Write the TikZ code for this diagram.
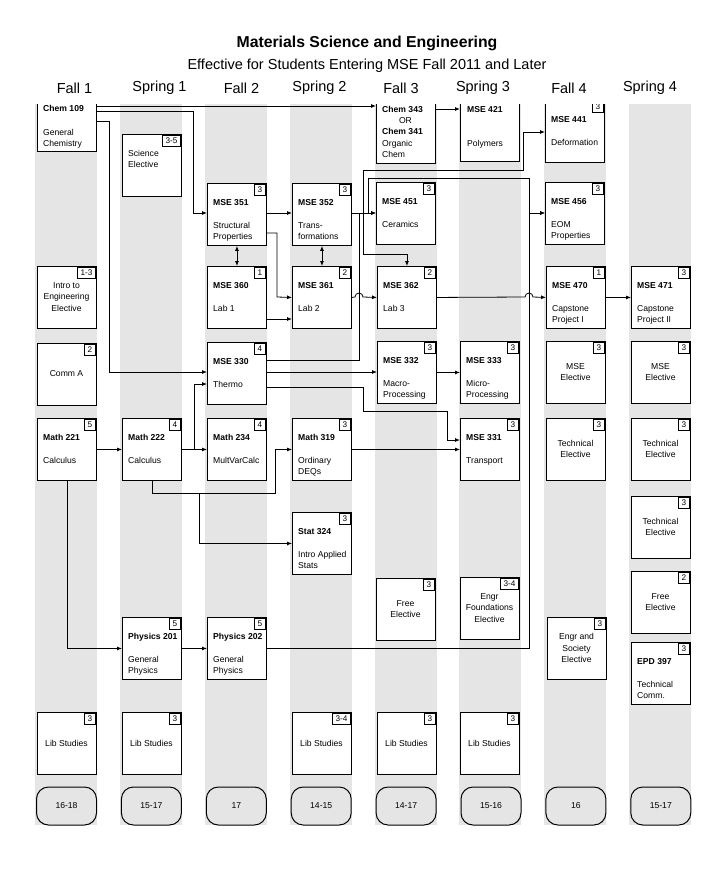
\documentclass[tikz,border=0pt]{standalone}
\usepackage{fontspec}
\setmainfont{Liberation Sans}
\usetikzlibrary{arrows.meta,positioning}

\tikzset{
  every course/.style={draw, line width=0.9pt, fill=white, anchor=north west,
    minimum width=59pt, minimum height=62pt, inner sep=0pt},
  credit/.style={draw, line width=0.8pt, fill=white, anchor=north east,
    minimum width=11pt, minimum height=11pt, inner xsep=3pt, inner ysep=0pt,
    font=\fontsize{8.2}{9}\selectfont},
  course name/.style={anchor=base west, inner sep=0pt,
    font=\fontsize{8.6}{11.5}\selectfont\bfseries},
  course text/.style={anchor=north west, inner sep=0pt, align=left,
    font=\fontsize{8.6}{11.5}\selectfont},
  elective text/.style={inner sep=0pt, align=center,
    font=\fontsize{8.6}{11.5}\selectfont},
  semester/.style={font=\fontsize{14.5}{16}\selectfont},
  strip/.style={fill=black!10},
  total box/.style={draw, line width=1pt, fill=black!10, rounded corners=12pt,
    minimum width=60pt, minimum height=38pt, font=\fontsize{8.6}{10}\selectfont},
  link/.style={line width=0.8pt, ->},
}

\begin{document}
\begin{tikzpicture}[x=1pt, y=-1pt, >={Latex[length=5pt,width=4pt]}]
\useasboundingbox (0,0) rectangle (728,876);
\node[font=\fontsize{15.8}{18}\selectfont\bfseries] (title) at (367,43)
  {Materials Science and Engineering};
\node[semester] (subtitle) at (367,66)
  {Effective for Students Entering MSE Fall 2011 and Later};
\foreach \l/\x [count=\i] in {Fall 1/74.5,Spring 1/159.5,Fall 2/241.5,Spring 2/319.5,
    Fall 3/401,Spring 3/483,Fall 4/569,Spring 4/650}
  \node[semester] (head-\i) at (\x,88) {\l};

\begin{scope}
\clip (0,104) rectangle (728,876);
\foreach \x in {35,120,205,290,375,459,544,629}
  \fill[strip] (\x,104) rectangle ++(62,721);

% courses with number and title
\foreach \n/\x/\y/\c/\t/\d in {
    mse441/545/100/3/MSE 441/Deformation,
    mse351/207/183/3/MSE 351/{Structural\\Properties},
    mse352/292/183/3/MSE 352/{Trans-\\formations},
    mse451/376/182/3/MSE 451/Ceramics,
    mse456/545/182/3/MSE 456/{EOM\\Properties},
    mse360/207/266/1/MSE 360/Lab 1,
    mse361/292/266/2/MSE 361/Lab 2,
    mse362/377/266/2/MSE 362/Lab 3,
    mse470/546/266/1/MSE 470/{Capstone\\Project I},
    mse471/631/266/3/MSE 471/{Capstone\\Project II},
    mse330/207/342/4/MSE 330/Thermo,
    mse332/377/341/3/MSE 332/{Macro-\\Processing},
    mse333/460/341/3/MSE 333/{Micro-\\Processing},
    math221/37/418/5/Math 221/Calculus,
    math222/122/418/4/Math 222/Calculus,
    math234/207/418/4/Math 234/MultVarCalc,
    math319/292/418/3/Math 319/{Ordinary\\DEQs},
    mse331/460/418/3/MSE 331/Transport,
    stat324/292/512/3/Stat 324/{Intro Applied\\Stats},
    phys201/122/617/5/Physics 201/{General\\Physics},
    phys202/207/617/5/Physics 202/{General\\Physics},
    epd397/631/642/3/EPD 397/{Technical\\Comm.}}
{
  \node[every course] (\n) at (\x,\y) {};
  \node[credit] (\n-cr) at ([xshift=-1pt,yshift=-1pt]\n.north east) {\c};
  \node[course name] (\n-name) at (\x+6,\y+22) {\t};
  \node[course text] (\n-text) at (\x+6,\y+39) {\d};
}

% electives
\foreach \n/\x/\y/\c/\t in {
    intro/37/266/1-3/{Intro to\\Engineering\\Elective},
    comma/37/343/2/Comm A,
    msee1/546/341/3/{MSE\\Elective},
    msee2/631/341/3/{MSE\\Elective},
    teche1/546/418/3/{Technical\\Elective},
    teche2/631/418/3/{Technical\\Elective},
    teche3/631/496/3/{Technical\\Elective},
    freee1/376/578/3/{Free\\Elective},
    engrf/460/577/3-4/{Engr\\Foundations\\Elective},
    freee2/631/571/2/{Free\\Elective},
    engrs/547/617/3/{Engr and\\Society\\Elective},
    lib1/37/712/3/Lib Studies,
    lib2/122/712/3/Lib Studies,
    lib4/292/712/3-4/Lib Studies,
    lib5/377/712/3/Lib Studies,
    lib6/460/712/3/Lib Studies}
{
  \node[every course] (\n) at (\x,\y) {};
  \node[credit] (\n-cr) at ([xshift=-1pt,yshift=-1pt]\n.north east) {\c};
  \node[elective text] (\n-text) at (\x+29.5,\y+31) {\t};
}

% top row, cut by the header
\node[every course] (chem109) at (37,89) {};
\node[course name] (chem109-name) at (43,111) {Chem 109};
\node[course text] (chem109-text) at (43,129) {General\\Chemistry};
\node[every course] (chem343) at (376,101) {};
\node[course name] (chem343-name) at (382,112) {Chem 343};
\node[course text, anchor=base] (chem343-or) at (405.5,123) {OR};
\node[course name] (chem341-name) at (382,134) {Chem 341};
\node[course text] (chem343-text) at (382,140) {Organic\\Chem};
\node[every course] (mse421) at (460,99) {};
\node[course name] (mse421-name) at (467,112) {MSE 421};
\node[course text] (mse421-text) at (467,140) {Polymers};
\node[every course] (sciel) at (122,134) {};
\node[credit] (sciel-cr) at ([xshift=-1pt,yshift=-1pt]sciel.north east) {3-5};
\node[course text] (sciel-text) at (128,150) {Science\\Elective};

\foreach \l [count=\i from 0] in {16-18,15-17,17,14-15,14-17,15-16,16,15-17}
  \node[total box] (total-\i) at (66.5+84.9*\i,806) {\l};

% prerequisites
\draw[link] (chem109.east |- 0,106) -- (chem343.west |- 0,106);
\draw[link] (chem109.east |- 0,111) -| (193,213) -- (mse351.west |- 0,213);
\draw[link] (chem109.east |- 0,121) -| (109,372) -- (mse330.west |- 0,372);
\draw[link] (chem343.east |- 0,109) -- (mse421.west |- 0,109);
\draw[link] (mse351.east |- 0,213) -- (mse352.west |- 0,213);
\draw[link] (mse352.east |- 0,213) -- (mse451.west |- 0,213);
\draw[link] (mse330.east |- 0,360) -| (359,213) -- (mse451.west |- 0,213);
\draw[link] (mse352.east |- 0,213) -| (363,170) -| (523,132) -- (mse441.west |- 0,132);
\draw[link] (mse352.east |- 0,213) -| (363,254) -| (mse362.north);
\draw[link] (mse352.east |- 0,213) -| (368,178) -| (529,213) -- (mse456.west |- 0,213);
\draw[link] (phys202.east) -| (529,213) -- (mse456.west |- 0,213);
\draw[link, <->] (mse351.south) -- (mse360.north);
\draw[link, <->] (mse352.south) -- (mse361.north);
\draw[link] (mse351.east |- 0,233) -| (277,297) -- (mse361.west);
\draw[link] (mse360.east |- 0,319) -- (mse361.west |- 0,319);
\draw[link] (mse361.east) -- (355,297) arc[start angle=180, end angle=0, radius=4pt] -- (mse362.west);
\draw[link] (mse362.east) -- (525,297) arc[start angle=180, end angle=0, radius=4pt] -- (mse470.west);
\draw[link] (mse470.east) -- (mse471.west);
\draw[link] (mse330.east |- 0,372) -- (mse332.west |- 0,372);
\draw[link] (mse332.east) -- (mse333.west);
\draw[link] (mse330.east |- 0,387) -| (363,411) -| (447,440) -- (mse331.west |- 0,440);
\draw[link] (math319.east) -- (mse331.west |- math319.east);
\draw[link] (math221.east) -- (math222.west);
\draw[link] (math222.east) -- (math234.west);
\draw[link] (math222.east) -| (194,384) -- (mse330.west |- 0,384);
\draw[link] (math222.south) |- (275,493) |- (math319.west);
\draw[link] (math222.south) |- (199,493) |- (stat324.west);
\draw[link] (math221.south) |- (phys201.west);
\draw[link] (phys201.east) -- (phys202.west);
\end{scope}
\end{tikzpicture}
\end{document}
